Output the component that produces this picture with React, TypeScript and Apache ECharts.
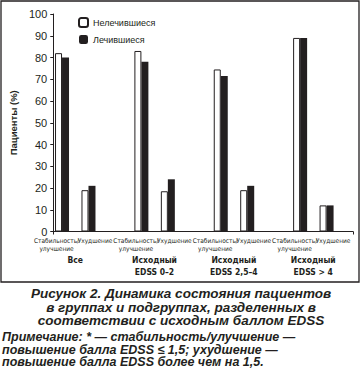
import React, { useEffect, useRef } from "react";
import * as echarts from "echarts";

const subCategories = [
  "Стабильность/\nулучшение", "Ухудшение", "",
  "Стабильность/\nулучшение", "Ухудшение", "",
  "Стабильность/\nулучшение", "Ухудшение", "",
  "Стабильность/\nулучшение", "Ухудшение",
];
const groups = ["Все", "Исходный\nEDSS 0–2", "Исходный\nEDSS 2,5–4", "Исходный\nEDSS > 4"];
const untreated = [82, 19, "-", 83, 18.5, "-", 74.5, 19, "-", 89, 12];
const treated = [80, 21, "-", 78, 24, "-", 71.5, 21, "-", 89, 12];
const yTicks = { min: 0, max: 100, interval: 10 };
const captionLines = [
  "Рисунок 2. Динамика состояния пациентов",
  "в группах и подгруппах, разделенных в",
  "соответствии с исходным баллом EDSS",
];
const noteLines = [
  "Примечание: * — стабильность/улучшение —",
  "повышение балла EDSS ≤ 1,5; ухудшение —",
  "повышение балла EDSS более чем на 1,5.",
];

const INK = "#231f20";
const NARROW = "'Liberation Sans Narrow', 'Arial Narrow', 'DejaVu Sans Condensed', sans-serif";
const SANS = "'Liberation Sans', Arial, sans-serif";

// labels only for one kind of sub-category (the other names left blank)
const onlyStab = subCategories.map((c) => (c.indexOf("\n") >= 0 ? c : ""));
const onlyWorse = subCategories.map((c) => (c.indexOf("\n") >= 0 ? "" : c));

const subLabel = {
  interval: 0,
  margin: 5,
  color: INK,
  fontFamily: NARROW,
  fontSize: 6.5,
  lineHeight: 8,
};

export default function App() {
  const ref = useRef<HTMLDivElement>(null);
  useEffect(() => {
    if (!ref.current) return;
    const chart = echarts.init(ref.current, undefined, { renderer: "svg" });
    const top = 14;
    const height = 217.5;
    const barLeft = 48.8;
    const barWidth = 291;
    chart.setOption({
      animation: false,
      backgroundColor: "#fff",
      grid: [
        { left: 39.5, top, width: 313.5, height },
        { left: barLeft, top, width: barWidth, height },
        { left: 35.5, top, width: 317.4, height },
        { left: barLeft - 5.5, top, width: barWidth, height },
        { left: barLeft + 6.5, top, width: barWidth, height },
      ],
      legend: {
        orient: "vertical",
        left: 73,
        top: 12,
        itemWidth: 9,
        itemHeight: 9,
        itemGap: 7,
        textStyle: { fontSize: 9, color: INK, fontFamily: SANS },
        data: ["Нелечившиеся", "Лечившиеся"],
      },
      xAxis: [
        {
          type: "value", gridIndex: 0, min: 0, max: 1, interval: 1,
          axisLine: { show: true, lineStyle: { color: INK, width: 1 } },
          axisTick: { show: true, length: 3, lineStyle: { color: INK } },
          axisLabel: { show: false },
          splitLine: { show: false },
        },
        {
          type: "category", gridIndex: 1, data: subCategories,
          axisLine: { show: false }, axisTick: { show: false },
          axisLabel: { show: false },
        },
        {
          type: "category", gridIndex: 2, data: groups,
          axisLine: { show: false }, axisTick: { show: false },
          axisLabel: {
            interval: 0, margin: 22, color: INK, fontFamily: NARROW,
            fontWeight: "bold", fontSize: 8.5, lineHeight: 12,
          },
        },
        {
          type: "category", gridIndex: 3, data: onlyStab,
          axisLine: { show: false }, axisTick: { show: false },
          axisLabel: subLabel,
        },
        {
          type: "category", gridIndex: 4, data: onlyWorse,
          axisLine: { show: false }, axisTick: { show: false },
          axisLabel: subLabel,
        },
      ],
      yAxis: [
        {
          type: "value", gridIndex: 0, ...yTicks,
          name: "Пациенты (%)",
          nameLocation: "middle",
          nameGap: 21,
          nameTextStyle: { fontSize: 9.5, fontWeight: "bold", color: INK, fontFamily: SANS },
          axisLine: { show: true, lineStyle: { color: INK, width: 1 } },
          axisTick: { show: true, length: 3, lineStyle: { color: INK } },
          axisLabel: { fontSize: 11, color: INK, margin: 6, fontFamily: SANS },
          splitLine: { show: false },
        },
        { type: "value", gridIndex: 1, ...yTicks, show: false, splitLine: { show: false } },
        { type: "value", gridIndex: 2, ...yTicks, show: false, splitLine: { show: false } },
        { type: "value", gridIndex: 3, ...yTicks, show: false, splitLine: { show: false } },
        { type: "value", gridIndex: 4, ...yTicks, show: false, splitLine: { show: false } },
      ],
      series: [
        {
          name: "Нелечившиеся", type: "bar", xAxisIndex: 1, yAxisIndex: 1,
          data: untreated, barWidth: 7, barGap: "0%",
          itemStyle: { color: "#fff", borderColor: INK, borderWidth: 1 },
        },
        {
          name: "Лечившиеся", type: "bar", xAxisIndex: 1, yAxisIndex: 1,
          data: treated, barWidth: 7, barGap: "0%",
          itemStyle: { color: INK },
        },
      ],
      graphic: [
        {
          type: "rect", shape: { x: 1, y: 1, width: 358, height: 281 },
          style: { fill: "none", stroke: INK, lineWidth: 1.3 }, silent: true,
        },
        {
          type: "text", x: 181, y: 287,
          style: {
            text: captionLines.join("\n"), align: "center", verticalAlign: "top",
            font: `italic bold 13.5px ${SANS}`, lineHeight: 13.5, fill: INK,
          },
        },
        {
          type: "text", x: 2, y: 331,
          style: {
            text: noteLines.join("\n"), align: "left", verticalAlign: "top",
            font: `italic bold 12.5px ${SANS}`, lineHeight: 12.5, fill: INK,
          },
        },
      ],
    });
    return () => chart.dispose();
  }, []);
  return (
    <div
      ref={ref}
      style={{ position: "fixed", left: 0, top: 0, width: 361, height: 376, background: "#fff" }}
    />
  );
}
